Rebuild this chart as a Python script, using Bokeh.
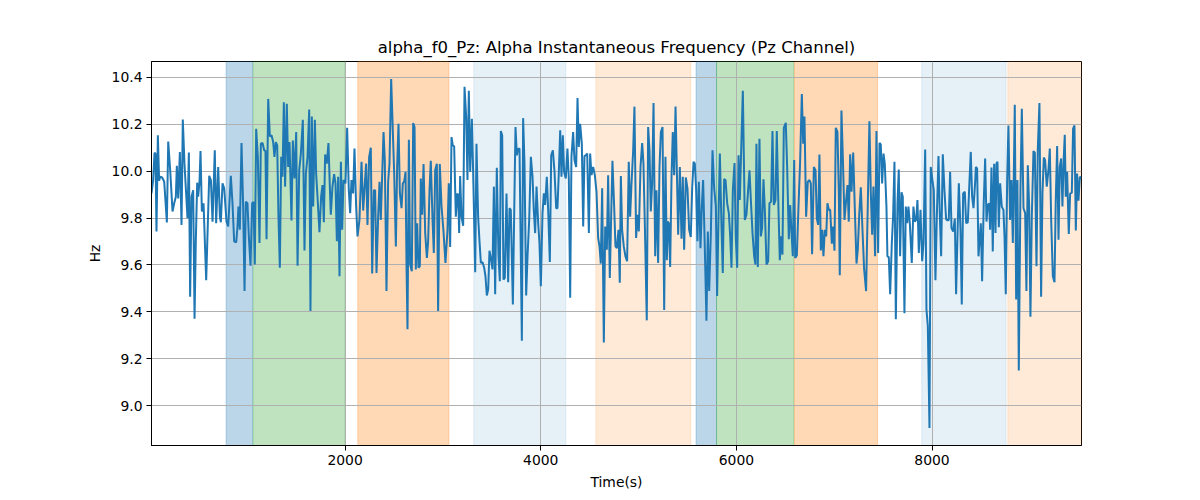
from bokeh.plotting import figure
from bokeh.models import Range1d, FixedTicker, PrintfTickFormatter, BoxAnnotation
from bokeh.embed import file_html
from bokeh.resources import INLINE

title_text = "alpha_f0_Pz: Alpha Instantaneous Frequency (Pz Channel)"
x_label = "Time(s)"
y_label = "Hz"

time_s = [
    21, 38, 52, 62, 72, 86, 99, 110, 130, 151, 178, 192, 212, 236, 253, 270, 280, 294, 311, 328,
    341, 358, 389, 403, 416, 430, 447, 461, 474, 488, 498, 512, 522, 536, 553, 580, 611, 628, 645, 668,
    682, 703, 720, 730, 747, 764, 788, 805, 832, 849, 866, 887, 900, 910, 924, 941, 958, 972, 985, 1002,
    1016, 1033, 1050, 1064, 1077, 1091, 1108, 1125,
    1139, 1156, 1173, 1186, 1197, 1214, 1231, 1248, 1265, 1278, 1292, 1306, 1319, 1333, 1347, 1360, 1374, 1387, 1404, 1418,
    1432, 1452, 1466, 1483, 1500, 1514, 1531, 1548, 1568, 1585, 1599, 1616, 1633, 1646, 1660, 1674, 1691, 1704, 1718, 1738,
    1755, 1769, 1783, 1796, 1813, 1830, 1844, 1854, 1871, 1888, 1902, 1916, 1929, 1943, 1957, 1970, 1984, 2004, 2021, 2038,
    2052, 2065, 2082, 2096, 2113, 2127, 2147, 2168, 2185, 2202, 2215, 2229, 2246, 2263, 2277, 2294, 2307, 2321, 2338, 2352,
    2365, 2393, 2406, 2423, 2440, 2454, 2471, 2491, 2502, 2519, 2532, 2546, 2560, 2577, 2590, 2604, 2618, 2628, 2638, 2652,
    2665, 2682, 2696, 2710, 2723, 2737, 2750, 2764, 2774, 2788, 2802, 2819, 2836, 2849, 2863, 2876, 2894, 2907, 2921, 2938,
    2951, 2968, 2986, 3006, 3026, 3047, 3060, 3074, 3088, 3101, 3115, 3132, 3146, 3156, 3166, 3176, 3190, 3207, 3221, 3238,
    3251, 3265, 3279, 3296, 3309, 3330, 3343, 3360, 3374, 3388, 3405, 3422, 3435, 3449, 3463, 3476, 3490, 3507, 3521, 3534,
    3551, 3568, 3582,
    3592, 3606, 3619, 3633, 3650, 3667, 3681, 3694, 3715, 3728, 3742, 3756, 3769, 3783, 3807, 3820, 3834, 3851, 3865, 3882,
    3899, 3916, 3929, 3943, 3957, 3974, 3987, 4001, 4018, 4032, 4045, 4062, 4076, 4093, 4107, 4124, 4141, 4158, 4171, 4185,
    4199, 4212, 4226, 4239, 4256, 4273, 4287, 4301, 4314, 4331, 4345, 4362, 4376, 4389, 4403, 4420, 4434, 4447, 4461, 4475,
    4492, 4505, 4519, 4536, 4553, 4570, 4587, 4601, 4614, 4628, 4645, 4659, 4676, 4689, 4706, 4720, 4733, 4750, 4764, 4778,
    4795, 4808,
    4819, 4832, 4849, 4866, 4883, 4900, 4914, 4928, 4945, 4958, 4975, 4989, 5003, 5020, 5037, 5050, 5064, 5084, 5098, 5112,
    5125, 5139, 5153, 5170, 5183, 5200, 5214, 5228, 5245, 5262, 5275, 5289, 5299, 5309, 5323, 5337, 5350, 5364, 5378, 5391,
    5405, 5422, 5439, 5452, 5466, 5483, 5500, 5517, 5534, 5548, 5562, 5575, 5589, 5602, 5616, 5633, 5647, 5660, 5677, 5694,
    5708, 5722, 5739, 5756, 5773, 5790, 5803, 5817, 5831, 5848, 5861, 5875, 5889, 5906, 5923, 5936, 5950, 5964, 5981, 5994,
    6008, 6022, 6035,
    6066, 6086, 6103, 6120, 6134, 6148, 6165, 6182, 6195, 6205, 6219, 6236, 6250, 6263, 6277, 6291, 6308, 6325, 6338, 6355,
    6369, 6383, 6400, 6413, 6430, 6444, 6458, 6471, 6485, 6505, 6519, 6536, 6550, 6563, 6577, 6591, 6601, 6618, 6635, 6652,
    6669, 6683, 6696, 6713, 6730, 6747, 6761, 6774, 6792, 6809, 6822, 6836, 6849, 6863, 6877, 6890, 6904, 6918, 6931, 6945,
    6959, 6976, 6989, 7003, 7016, 7033, 7047, 7057, 7074, 7091, 7105, 7122, 7136, 7149, 7163, 7177, 7194, 7211, 7228, 7241,
    7255,
    7272, 7289, 7306, 7326, 7343, 7360, 7374, 7388, 7401, 7418, 7432, 7449, 7463, 7476, 7490, 7504, 7517, 7534, 7544, 7558,
    7572, 7589, 7602, 7616, 7630, 7647, 7660, 7674, 7688, 7701, 7718, 7732, 7746, 7759, 7773, 7793, 7810, 7824, 7838, 7851,
    7865, 7882, 7899, 7913, 7930, 7943, 7957, 7974, 7987, 8004, 8018, 8035, 8049, 8066, 8079, 8093, 8110, 8127, 8144, 8158,
    8171, 8185, 8199, 8216, 8233, 8246, 8260, 8274, 8291, 8304, 8318, 8335, 8349, 8366, 8379, 8396, 8410, 8424, 8441,
    8448, 8461, 8475, 8488, 8499, 8512, 8529, 8543, 8557, 8570, 8584, 8594, 8608, 8621, 8635, 8649, 8659, 8669, 8683, 8696,
    8713, 8730, 8741, 8754, 8768, 8781, 8798, 8812, 8826, 8846, 8860, 8873, 8887, 8904, 8918, 8935, 8952, 8965, 8979, 8993,
    9006, 9020, 9037, 9051, 9068, 9081, 9098, 9115, 9129, 9143, 9156, 9173, 9190, 9204, 9218, 9235, 9252, 9265, 9279, 9293,
    9306, 9320, 9333, 9347, 9357, 9367, 9381, 9398, 9412, 9429, 9442, 9456, 9470, 9483, 9497, 9511, 9528,
]

alpha_f0 = [
    9.905, 9.962, 10.078, 10.075, 9.743, 10.153, 9.959, 9.976, 9.973, 9.955, 9.781, 10.126, 10.004, 9.828, 9.863, 9.891, 10.023, 9.884, 10.082, 9.771,
    10.220, 10.032, 9.799, 10.079, 9.465, 9.891, 9.919, 9.371, 9.701, 9.951, 9.891, 9.955, 10.086, 9.828, 9.863, 9.535, 9.980, 9.962, 9.785, 10.089,
    9.778, 10.018, 9.806, 9.782, 9.948, 9.927, 9.785, 9.764, 9.980, 9.863, 9.701, 9.696, 9.764, 9.849, 9.750, 10.120, 9.849, 9.489, 9.870, 9.863,
    9.722, 9.597, 9.863, 9.869, 9.602, 10.181, 10.061, 9.694,
    10.117, 10.120, 10.089, 10.086, 9.710, 10.308, 10.148, 10.153, 10.124, 10.061, 10.124, 10.110, 9.806, 9.588, 10.061, 9.976, 10.294, 9.934, 10.287, 10.018,
    10.124, 9.790, 10.131, 9.969, 10.167, 9.597, 10.004, 10.075, 10.219, 9.662, 9.990, 10.061, 10.263, 9.404, 10.233, 9.849, 10.219, 9.990, 9.891, 9.740,
    9.891, 9.941, 9.782, 10.071, 10.032, 10.120, 9.934, 9.814, 9.934, 9.987, 9.948, 9.701, 9.976, 9.552, 10.040, 9.750, 9.962, 9.948, 10.185, 9.919,
    9.821, 9.962, 9.905, 10.096, 9.849, 9.722, 9.792, 10.040, 9.832, 9.948, 10.032, 9.771, 10.061, 10.100, 9.564, 9.919, 9.919, 9.566, 9.806, 9.955,
    9.792, 10.167, 10.047, 9.489, 9.955, 10.032, 10.393, 10.131, 9.990, 9.679, 10.018, 10.202, 9.905, 9.842, 9.948, 9.955, 9.997, 9.595, 9.326, 10.134,
    9.602, 9.573, 10.205, 10.188, 9.581, 9.778, 9.588, 9.595, 9.969, 9.814, 10.030, 9.736, 9.630, 9.701, 9.919, 10.044, 9.792, 9.651, 10.004, 10.032,
    9.404, 10.030, 9.849, 9.743, 9.609, 9.750, 9.948, 9.677, 10.145, 10.110, 10.106, 9.806, 9.905, 9.898, 9.736, 9.979, 9.806, 9.767, 10.360, 10.230,
    9.962, 10.343, 9.997, 10.223, 9.997, 9.569, 10.117, 9.806, 9.701, 9.609, 9.612, 9.588, 9.552, 9.470, 9.496, 9.661, 9.630, 9.581, 9.934, 9.475,
    10.014, 9.637, 9.531,
    10.171, 10.153, 9.538, 9.545, 9.905, 9.527, 9.842, 9.835, 9.432, 9.799, 10.188, 10.068, 10.096, 10.096, 9.277, 10.226, 10.032, 9.470, 9.637, 9.792,
    10.061, 9.976, 9.835, 9.736, 9.934, 9.778, 9.694, 9.510, 9.821, 9.905, 9.856, 9.976, 9.835, 9.613, 10.068, 10.089, 9.997, 9.842, 9.842, 9.997,
    10.174, 9.976, 10.153, 9.997, 9.969, 10.096, 9.969, 9.460, 10.061, 10.167, 10.047, 10.018, 10.312, 10.103, 10.202, 10.117, 9.764, 10.064, 10.068, 10.075,
    9.736, 10.075, 9.983, 10.018, 9.983, 9.912, 9.715, 9.679, 9.606, 9.927, 9.270, 9.764, 9.665, 9.983, 9.545, 9.806, 10.044, 9.856, 9.679, 9.672,
    9.750, 9.524,
    9.979, 9.750, 9.679, 9.637, 9.616, 10.040, 9.806, 9.948, 10.089, 10.275, 9.715, 9.814, 9.743, 10.018, 10.120, 10.032, 9.778, 9.364, 10.188, 10.089,
    9.828, 9.948, 10.290, 9.637, 9.919, 9.609, 10.018, 10.167, 10.188, 9.408, 10.061, 9.620, 9.785, 9.778, 9.592, 9.976, 10.167, 9.983, 10.275, 10.011,
    9.729, 10.018, 9.712, 9.976, 9.665, 9.973, 9.927, 9.750, 9.719, 9.927, 10.040, 10.032, 9.919, 9.701, 9.955, 9.672, 9.849, 9.962, 9.679, 9.362,
    9.743, 9.489, 9.736, 10.089, 9.927, 9.849, 9.468, 9.799, 10.075, 9.764, 9.566, 9.966, 9.962, 9.863, 9.821, 9.729, 9.588, 9.919, 10.035, 9.715,
    9.588, 10.068, 9.877,
    10.343, 9.792, 9.814, 9.919, 10.004, 9.877, 9.736, 9.637, 9.602, 10.117, 9.592, 10.138, 9.722, 9.757, 9.965, 9.835, 9.602, 9.616, 9.863, 9.870,
    10.171, 9.856, 9.877, 10.171, 9.842, 9.620, 9.722, 9.644, 10.185, 10.206, 10.018, 9.710, 9.856, 9.743, 9.637, 10.047, 9.630, 9.641, 9.849, 10.047,
    10.329, 10.117, 10.233, 9.806, 9.955, 9.962, 9.948, 9.646, 10.018, 10.004, 9.799, 9.771, 10.071, 9.662, 9.750, 9.637, 9.750, 9.722, 9.863, 9.835,
    9.835, 9.691, 9.764, 9.661, 10.185, 10.167, 9.919, 9.556, 10.258, 10.018, 9.792, 9.877, 9.941, 9.785, 10.072, 9.912, 10.079, 9.835, 9.606, 9.665,
    9.806,
    9.931, 9.750, 9.581, 9.489, 9.849, 10.213, 9.912, 9.729, 9.934, 9.637, 10.171, 9.651, 10.120, 10.114, 9.948, 10.075, 10.032, 9.849, 9.637, 9.634,
    9.475, 9.694, 9.806, 10.040, 9.369, 9.863, 10.007, 9.637, 9.910, 9.891, 9.394, 9.849, 9.778, 9.849, 9.778, 9.609, 9.849, 9.785, 9.792, 9.877,
    9.651, 9.835, 9.616, 9.694, 10.092, 9.411, 9.340, 8.905, 10.018, 9.962, 9.919, 9.535, 9.806, 10.065, 9.821, 9.637, 10.072, 9.919, 9.795, 9.790,
    9.792, 9.997, 9.757, 9.743, 9.797, 9.475, 9.722, 9.948, 9.750, 9.432, 9.905, 9.912, 9.778, 9.782, 9.919, 10.082, 9.891, 9.842, 9.955,
    10.018, 10.011, 9.637, 9.715, 9.778, 9.531, 9.870, 10.054, 9.785, 9.856, 9.863, 9.750, 10.016, 9.658, 10.032, 9.736, 10.032, 10.040, 9.761, 9.948,
    9.849, 9.835, 9.722, 9.475, 9.962, 10.195, 9.792, 9.962, 9.694, 10.283, 9.453, 9.962, 9.150, 9.919, 10.266, 9.842, 9.821, 9.489, 10.025, 9.849,
    9.379, 9.806, 10.086, 10.078, 9.595, 10.089, 10.290, 9.465, 9.908, 10.058, 10.047, 9.934, 10.004, 10.096, 9.792, 9.552, 9.527, 9.877, 10.107, 9.708,
    10.018, 10.054, 9.849, 10.061, 10.155, 9.891, 9.997, 9.732, 9.905, 9.908, 10.181, 10.195, 9.747, 9.990, 9.874, 9.976, 9.969,
]

# shaded epochs
span_start = [784, 1060, 2130, 3316, 4563, 5588, 5797, 6594, 7895, 8775]
span_end = [1054, 2000, 3061, 4256, 5534, 5797, 6587, 7443, 8757, 9528]
span_kind = ["blue", "green", "orange", "lightblue", "lightorange",
             "blue", "green", "orange", "lightblue", "lightorange"]

x_ticks = [2000, 4000, 6000, 8000]
y_ticks = [9.0, 9.2, 9.4, 9.6, 9.8, 10.0, 10.2, 10.4]

span_style = {
    "blue": ("#1f77b4", 0.3),
    "green": ("#2ca02c", 0.3),
    "orange": ("#ff7f0e", 0.3),
    "lightblue": ("#1f77b4", 0.11),
    "lightorange": ("#ff7f0e", 0.16),
}

ymin, ymax = min(alpha_f0), max(alpha_f0)
pad = 0.05 * (ymax - ymin)

FONT = "DejaVu Sans"

p = figure(
    frame_width=930, frame_height=384,
    min_border_left=151, min_border_right=119, min_border_top=61, min_border_bottom=55,
    x_range=Range1d(time_s[0], time_s[-1]),
    y_range=Range1d(ymin - pad, ymax + pad),
    output_backend="svg", toolbar_location=None,
    title=title_text,
)

for s, e, k in zip(span_start, span_end, span_kind):
    c, a = span_style[k]
    p.add_layout(BoxAnnotation(left=s, right=e, fill_color=c, fill_alpha=a,
                               line_color=c, line_alpha=a, line_width=1, level="image"))

p.line(time_s, alpha_f0, line_color="#1f77b4", line_width=2)

p.title.text_font = FONT
p.title.text_font_size = "16.5px"
p.title.text_font_style = "normal"
p.title.align = "center"
p.title.text_color = "black"
p.title.standoff = 9

p.xaxis.ticker = FixedTicker(ticks=x_ticks)
p.yaxis.ticker = FixedTicker(ticks=y_ticks)
p.yaxis.formatter = PrintfTickFormatter(format="%.1f")
p.xaxis.axis_label = x_label
p.yaxis.axis_label = y_label

for ax in (p.xaxis, p.yaxis):
    ax.axis_label_text_font = FONT
    ax.axis_label_text_font_size = "13.9px"
    ax.axis_label_text_font_style = "normal"
    ax.axis_label_text_color = "black"
    ax.major_label_text_font = FONT
    ax.major_label_text_font_size = "13.9px"
    ax.major_label_text_color = "black"
    ax.axis_line_color = "black"
    ax.major_tick_line_color = "black"
    ax.major_tick_out = 5
    ax.major_tick_in = 0
    ax.minor_tick_line_color = None
    ax.axis_label_standoff = 6
    ax.major_label_standoff = 4

p.grid.grid_line_color = "#b0b0b0"
p.grid.grid_line_width = 1
p.outline_line_color = "black"
p.outline_line_alpha = 1
p.outline_line_width = 1
p.background_fill_color = "white"
p.border_fill_color = "white"

open("out.html", "w").write(file_html(p, INLINE))
